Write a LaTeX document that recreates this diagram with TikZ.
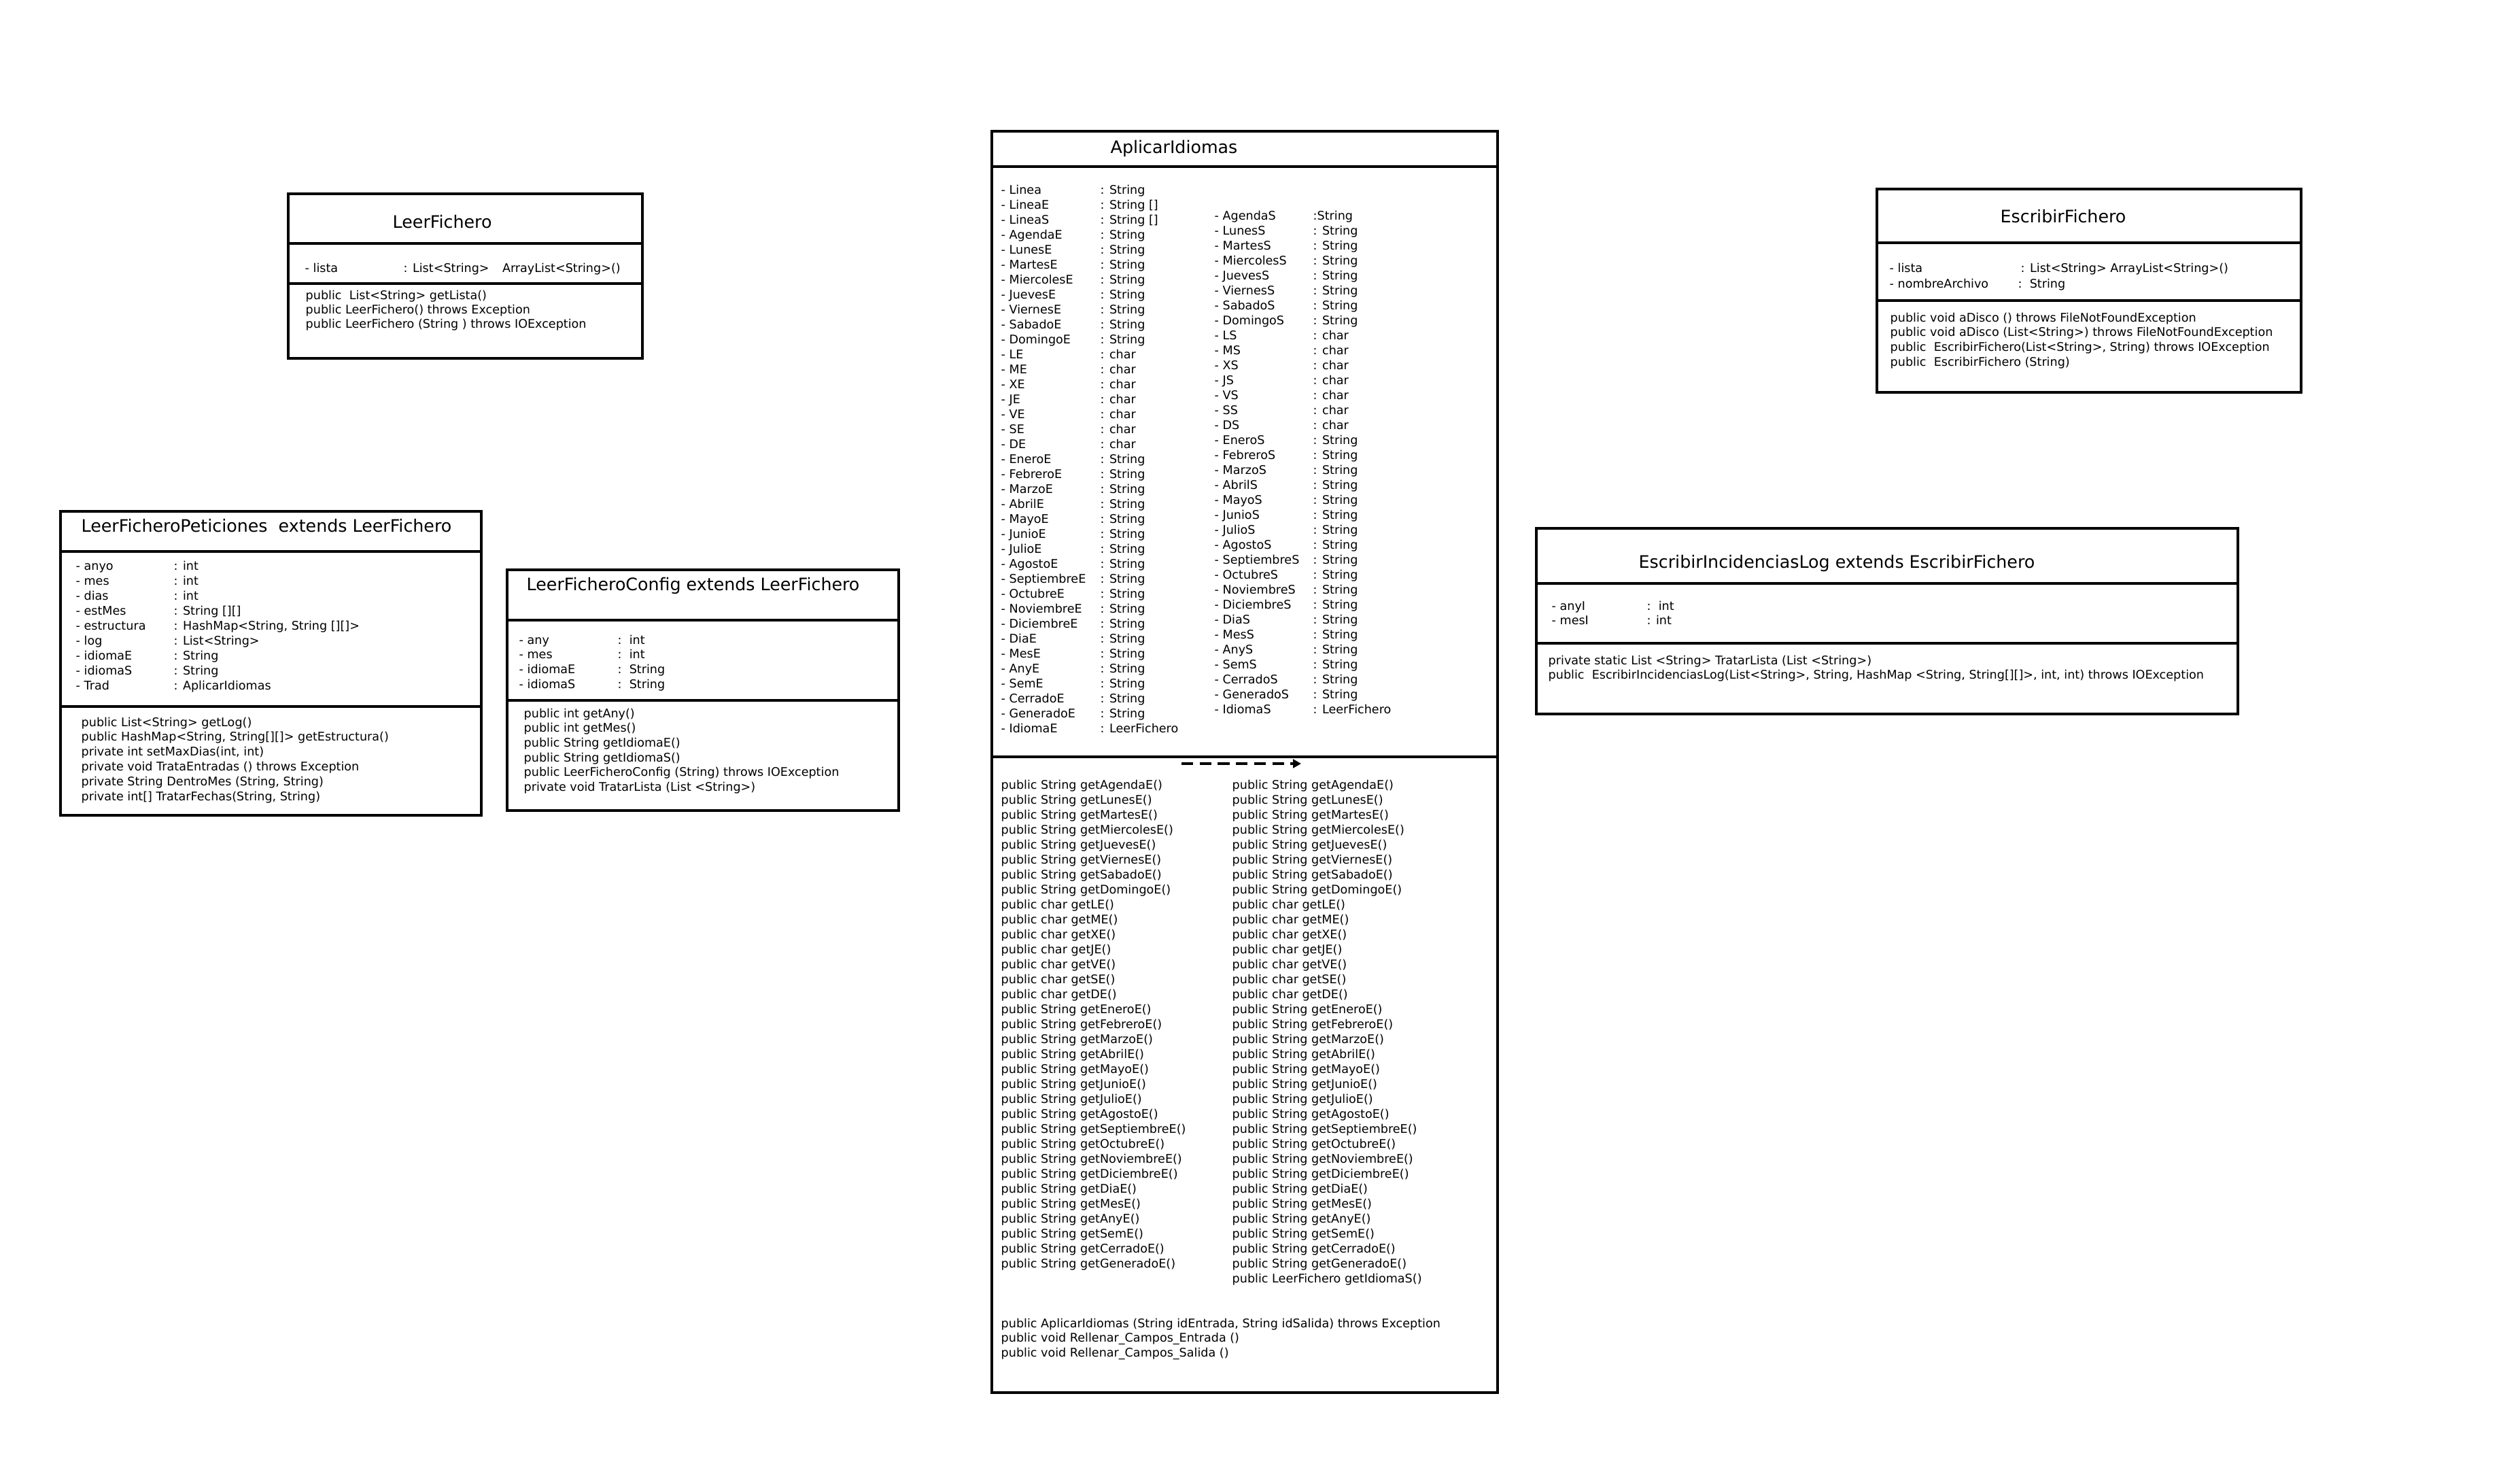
\documentclass[tikz,border=0pt]{standalone}
\usepackage{fontspec}
\setmainfont{DejaVu Sans}
\usepackage{tikz}
\usetikzlibrary{arrows.meta}

\begin{document}
\begin{tikzpicture}[
  classbox/.style={rectangle, draw, line width=1.1pt, anchor=north west, inner sep=0pt, outer sep=0pt},
  line/.style={draw, line width=1.1pt},
  ttl/.style={anchor=base west, inner sep=0pt, font=\fontsize{7.2}{8.6}\selectfont},
  txt/.style={anchor=base west, inner sep=0pt, font=\fontsize{5}{6}\selectfont},
  dep/.style={draw, line width=0.9pt, dash pattern=on 4.9pt off 2.7pt, -{Triangle[length=3.4pt, width=3.6pt]}}
]

\useasboundingbox (0,0) rectangle (37.07,-21.52);

% LeerFichero
\node[classbox, minimum width=5.21cm, minimum height=2.42cm] (lf) at (4.24,-2.85) {};
\draw[line] ([yshift=-0.73cm]lf.north west) -- ([yshift=-0.73cm]lf.north east);
\draw[line] ([yshift=-1.32cm]lf.north west) -- ([yshift=-1.32cm]lf.north east);
\node[ttl] (lfname) at (5.77,-3.35) {LeerFichero};
\node[txt] (lfa0) at (4.48,-4.00) {- lista};
\node[txt] (lfa0t) at (5.93,-4.00) {: List<String>\hspace{1.1em}ArrayList<String>()};
\foreach \mt [count=\i from 0] in {{public\ \ List<String> getLista()}, {public LeerFichero() throws Exception}, {public LeerFichero (String ) throws IOException}}
  \node[txt] (lfm\i) at (4.49,-4.40-0.21*\i) {\mt};

% LeerFicheroPeticiones
\node[classbox, minimum width=6.19cm, minimum height=4.47cm] (lfp) at (0.89,-7.52) {};
\draw[line] ([yshift=-0.59cm]lfp.north west) -- ([yshift=-0.59cm]lfp.north east);
\draw[line] ([yshift=-2.87cm]lfp.north west) -- ([yshift=-2.87cm]lfp.north east);
\node[ttl] (lfpname) at (1.19,-7.82) {LeerFicheroPeticiones\ \ extends LeerFichero};
\foreach \nm/\ty [count=\i from 0] in {anyo/int, mes/int, dias/int, estMes/String [][], estructura/{HashMap<String, String [][]>}, log/List<String>, idiomaE/String, idiomaS/String, Trad/AplicarIdiomas}{
  \node[txt] (lfpa\i) at (1.11,-8.38-0.22*\i) {- \nm};
  \node[txt] (lfpt\i) at (2.55,-8.38-0.22*\i) {: \ty};
}
\foreach \mt [count=\i from 0] in {{public List<String> getLog()}, {public HashMap<String, String[][]> getEstructura()}, {private int setMaxDias(int, int)}, {private void TrataEntradas () throws Exception}, {private String DentroMes (String, String)}, {private int[] TratarFechas(String, String)}}
  \node[txt] (lfpm\i) at (1.19,-10.68-0.218*\i) {\mt};

% LeerFicheroConfig
\node[classbox, minimum width=5.76cm, minimum height=3.54cm] (lfc) at (7.46,-8.38) {};
\draw[line] ([yshift=-0.74cm]lfc.north west) -- ([yshift=-0.74cm]lfc.north east);
\draw[line] ([yshift=-1.92cm]lfc.north west) -- ([yshift=-1.92cm]lfc.north east);
\node[ttl] (lfcname) at (7.74,-8.68) {LeerFicheroConfig extends LeerFichero};
\foreach \nm/\ty [count=\i from 0] in {any/int, mes/int, idiomaE/String, idiomaS/String}{
  \node[txt] (lfca\i) at (7.63,-9.47-0.217*\i) {- \nm};
  \node[txt] (lfct\i) at (9.08,-9.47-0.217*\i) {:~~\ty};
}
\foreach \mt [count=\i from 0] in {{public int getAny()}, {public int getMes()}, {public String getIdiomaE()}, {public String getIdiomaS()}, {public LeerFicheroConfig (String) throws IOException}, {private void TratarLista (List <String>)}}
  \node[txt] (lfcm\i) at (7.70,-10.55-0.217*\i) {\mt};

% AplicarIdiomas
\node[classbox, minimum width=7.44cm, minimum height=18.55cm] (ai) at (14.59,-1.93) {};
\draw[line] ([yshift=-0.52cm]ai.north west) -- ([yshift=-0.52cm]ai.north east);
\draw[line] ([yshift=-9.20cm]ai.north west) -- ([yshift=-9.20cm]ai.north east);
\node[ttl] (ainame) at (16.33,-2.25) {AplicarIdiomas};
\foreach \nm/\ty [count=\i from 0] in {Linea/String, LineaE/String [], LineaS/String [], AgendaE/String, LunesE/String, MartesE/String, MiercolesE/String, JuevesE/String, ViernesE/String, SabadoE/String, DomingoE/String, LE/char, ME/char, XE/char, JE/char, VE/char, SE/char, DE/char, EneroE/String, FebreroE/String, MarzoE/String, AbrilE/String, MayoE/String, JunioE/String, JulioE/String, AgostoE/String, SeptiembreE/String, OctubreE/String, NoviembreE/String, DiciembreE/String, DiaE/String, MesE/String, AnyE/String, SemE/String, CerradoE/String, GeneradoE/String, IdiomaE/LeerFichero}{
  \node[txt] (aie\i) at (14.72,-2.85-0.22*\i) {- \nm};
  \node[txt] (aiet\i) at (16.18,-2.85-0.22*\i) {: \ty};
}
\node[txt] (ais0) at (17.86,-3.23) {- AgendaS};
\node[txt] (aist0) at (19.31,-3.23) {:String};
\foreach \nm/\ty [count=\i from 1] in {LunesS/String, MartesS/String, MiercolesS/String, JuevesS/String, ViernesS/String, SabadoS/String, DomingoS/String, LS/char, MS/char, XS/char, JS/char, VS/char, SS/char, DS/char, EneroS/String, FebreroS/String, MarzoS/String, AbrilS/String, MayoS/String, JunioS/String, JulioS/String, AgostoS/String, SeptiembreS/String, OctubreS/String, NoviembreS/String, DiciembreS/String, DiaS/String, MesS/String, AnyS/String, SemS/String, CerradoS/String, GeneradoS/String, IdiomaS/LeerFichero}{
  \node[txt] (ais\i) at (17.86,-3.23-0.22*\i) {- \nm};
  \node[txt] (aist\i) at (19.31,-3.23-0.22*\i) {: \ty};
}
\coordinate (depA) at (17.38,-11.23);
\coordinate (depB) at (19.14,-11.23);
\draw[dep] (depA) -- (depB);
\foreach \ty/\nm [count=\i from 0] in {String/AgendaE, String/LunesE, String/MartesE, String/MiercolesE, String/JuevesE, String/ViernesE, String/SabadoE, String/DomingoE, char/LE, char/ME, char/XE, char/JE, char/VE, char/SE, char/DE, String/EneroE, String/FebreroE, String/MarzoE, String/AbrilE, String/MayoE, String/JunioE, String/JulioE, String/AgostoE, String/SeptiembreE, String/OctubreE, String/NoviembreE, String/DiciembreE, String/DiaE, String/MesE, String/AnyE, String/SemE, String/CerradoE, String/GeneradoE}{
  \node[txt] (aiml\i) at (14.72,-11.60-0.22*\i) {public \ty\ get\nm()};
  \node[txt] (aimr\i) at (18.12,-11.60-0.22*\i) {public \ty\ get\nm()};
}
\node[txt] (aimr33) at (18.12,-18.86) {public LeerFichero getIdiomaS()};
\node[txt] (aic0) at (14.72,-19.52) {public AplicarIdiomas (String idEntrada, String idSalida) throws Exception};
\node[txt] (aic1) at (14.72,-19.73) {public void Rellenar\_Campos\_Entrada ()};
\node[txt] (aic2) at (14.72,-19.95) {public void Rellenar\_Campos\_Salida ()};

% EscribirFichero
\node[classbox, minimum width=6.24cm, minimum height=2.99cm] (ef) at (27.61,-2.78) {};
\draw[line] ([yshift=-0.79cm]ef.north west) -- ([yshift=-0.79cm]ef.north east);
\draw[line] ([yshift=-1.64cm]ef.north west) -- ([yshift=-1.64cm]ef.north east);
\node[ttl] (efname) at (29.42,-3.27) {EscribirFichero};
\node[txt] (efa0) at (27.79,-4.00) {- lista};
\node[txt] (efa0t) at (29.72,-4.00) {: List<String> ArrayList<String>()};
\node[txt] (efa1) at (27.79,-4.23) {- nombreArchivo};
\node[txt] (efa1t) at (29.68,-4.23) {:~~String};
\foreach \mt [count=\i from 0] in {{public void aDisco () throws FileNotFoundException}, {public void aDisco (List<String>) throws FileNotFoundException}, {public\ \ EscribirFichero(List<String>, String) throws IOException}, {public\ \ EscribirFichero (String)}}
  \node[txt] (efm\i) at (27.80,-4.73-0.217*\i) {\mt};

% EscribirIncidenciasLog
\node[classbox, minimum width=10.32cm, minimum height=2.73cm] (eil) at (22.60,-7.77) {};
\draw[line] ([yshift=-0.81cm]eil.north west) -- ([yshift=-0.81cm]eil.north east);
\draw[line] ([yshift=-1.69cm]eil.north west) -- ([yshift=-1.69cm]eil.north east);
\node[ttl] (eilname) at (24.10,-8.35) {EscribirIncidenciasLog extends EscribirFichero};
\node[txt] (eila0) at (22.82,-8.97) {- anyI};
\node[txt] (eila0t) at (24.22,-8.97) {:~~int};
\node[txt] (eila1) at (22.82,-9.18) {- mesI};
\node[txt] (eila1t) at (24.22,-9.18) {: int};
\node[txt] (eilm0) at (22.77,-9.77) {private static List <String> TratarLista (List <String>)};
\node[txt] (eilm1) at (22.77,-9.98) {public\ \ EscribirIncidenciasLog(List<String>, String, HashMap <String, String[][]>, int, int) throws IOException};

\end{tikzpicture}
\end{document}
